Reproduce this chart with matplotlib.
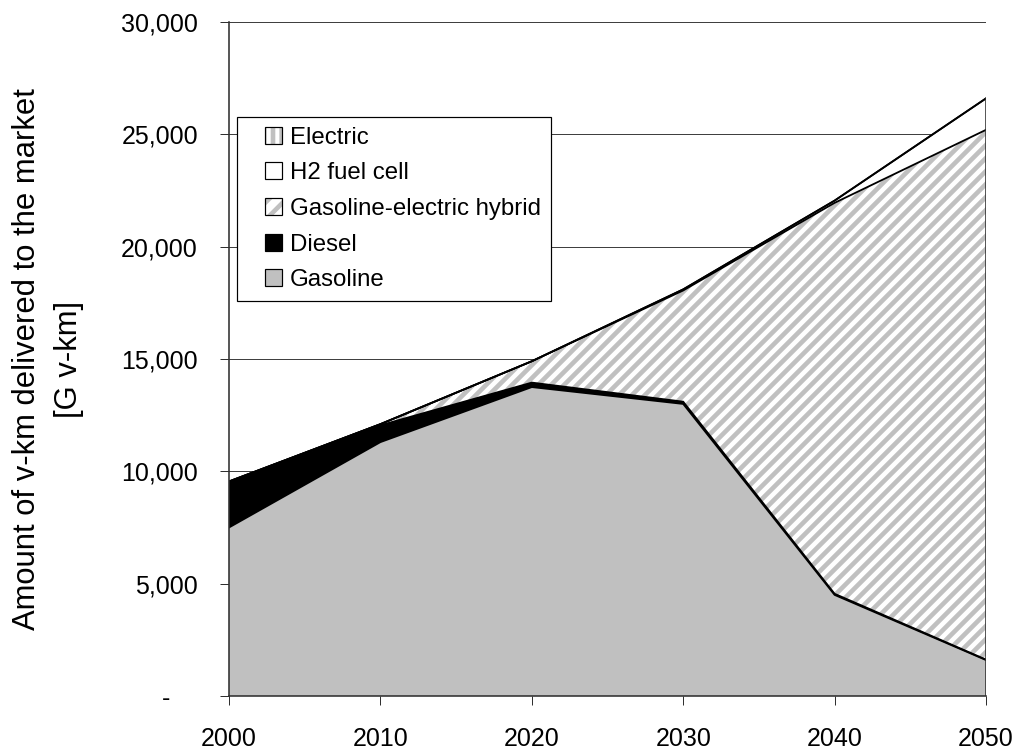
import matplotlib
matplotlib.use("Agg")
import matplotlib.pyplot as plt
from matplotlib.patches import Rectangle
from matplotlib.legend_handler import HandlerBase
from matplotlib.ticker import FuncFormatter

# Vehicle-km delivered to the market by technology [G v-km]
years = [2000, 2010, 2020, 2030, 2040, 2050]
gasoline = [7500, 11300, 13750, 13000, 4500, 1600]
diesel = [2000, 750, 200, 100, 50, 20]
hybrid = [50, 50, 950, 4950, 17400, 23580]
h2_fuel_cell = [0, 0, 0, 50, 100, 1400]
electric = [0, 0, 0, 0, 0, 0]

series_names = ["Gasoline", "Diesel", "Gasoline-electric hybrid", "H2 fuel cell", "Electric"]
y_ticks = [0, 5000, 10000, 15000, 20000, 25000, 30000]

DPI = 156
def pt(px):
    return px * 72.0 / DPI

plt.rcParams["font.family"] = ["Liberation Sans", "DejaVu Sans"]
plt.rcParams["hatch.linewidth"] = pt(4.6)

fig = plt.figure(figsize=(1022 / DPI, 750 / DPI), dpi=DPI)
ax = fig.add_axes([229 / 1022, 1 - 696 / 750, (986 - 229) / 1022, (696 - 22) / 750])

gray_fill = "#c0c0c0"
stripe = "#c0c0c0"

# cumulative layer boundaries
b0 = [0] * len(years)
b1 = gasoline
b2 = [a + b for a, b in zip(b1, diesel)]
b3 = [a + b for a, b in zip(b2, hybrid)]
b4 = [a + b for a, b in zip(b3, h2_fuel_cell)]
b5 = [a + b for a, b in zip(b4, electric)]

ax.fill_between(years, b0, b1, facecolor=gray_fill, edgecolor="none", zorder=2)
ax.fill_between(years, b1, b2, facecolor="black", edgecolor="none", zorder=2)
ax.fill_between(years, b2, b3, facecolor="white", edgecolor=stripe, linewidth=0,
                hatch="////", zorder=2)
ax.fill_between(years, b3, b4, facecolor="white", edgecolor="none", zorder=2)
ax.fill_between(years, b4, b5, facecolor="white", edgecolor=stripe, linewidth=0,
                hatch="||||", zorder=2)

for top in (b1, b2, b3, b4, b5):
    ax.plot(years, top, color="black", lw=pt(1.8), zorder=3, solid_joinstyle="miter")
ax.vlines(years[-1], 0, b5[-1], color="#303030", lw=pt(1.6), zorder=3)

ax.set_xlim(2000, 2050)
ax.set_ylim(0, 30000)
ax.set_xticks(years)
ax.set_yticks(y_ticks)
ax.yaxis.set_major_formatter(FuncFormatter(
    lambda v, p: "-    " if v == 0 else f"{v:,.0f}"))

ax.grid(axis="y", color="#404040", lw=pt(1.0), zorder=1)
ax.set_axisbelow(True)
for s in ("top", "right"):
    ax.spines[s].set_visible(False)
for s in ("left", "bottom"):
    ax.spines[s].set_color("#303030")
    ax.spines[s].set_linewidth(pt(1.6))
    ax.spines[s].set_zorder(4)

ax.tick_params(axis="both", direction="out", length=pt(9), width=pt(1.0),
               color="#303030", labelsize=pt(25))
ax.tick_params(axis="x", pad=pt(22))
ax.tick_params(axis="y", pad=pt(22))

ax.set_ylabel("Amount of v-km delivered to the market\n[G v-km]",
              fontsize=pt(31), linespacing=1.5, ha="center", va="center")
ax.yaxis.set_label_coords((48 - 229) / 757, 0.5)


class SquareKey:
    """Legend key: a small square with a fill, optional hatch and a black border."""
    def __init__(self, face, hatch=None):
        self.face = face
        self.hatch = hatch


class HandlerSquare(HandlerBase):
    def __init__(self, side_px, **kw):
        super().__init__(**kw)
        self.side_px = side_px

    def create_artists(self, legend, orig_handle, xdescent, ydescent, width,
                       height, fontsize, trans):
        side = self.side_px * 72.0 / DPI
        x0 = width - xdescent - side
        y0 = -ydescent + (height - side) / 2.0
        arts = []
        if orig_handle.hatch:
            arts.append(Rectangle((x0, y0), side, side, facecolor=orig_handle.face,
                                  edgecolor=stripe, hatch=orig_handle.hatch, lw=0,
                                  transform=trans))
            arts.append(Rectangle((x0, y0), side, side, facecolor="none",
                                  edgecolor="black", lw=pt(1.2), transform=trans))
        else:
            arts.append(Rectangle((x0, y0), side, side, facecolor=orig_handle.face,
                                  edgecolor="black", lw=pt(1.2), transform=trans))
        return arts


keys = [SquareKey("white", "|||"), SquareKey("white"), SquareKey("white", "///"),
        SquareKey("black"), SquareKey(gray_fill)]

leg = ax.legend(keys, series_names[::-1],
                handler_map={SquareKey: HandlerSquare(17)},
                loc="upper left", bbox_to_anchor=((237 - 229) / 757, (696 - 117) / 674),
                borderaxespad=0, fontsize=pt(24), frameon=True, fancybox=False,
                edgecolor="black", framealpha=1, handlelength=1.475, handleheight=0.7,
                handletextpad=0.33, labelspacing=0.57, borderpad=0.4)
leg.get_frame().set_linewidth(pt(1.2))
leg.set_zorder(5)

fig.savefig("out.png", dpi=DPI)
